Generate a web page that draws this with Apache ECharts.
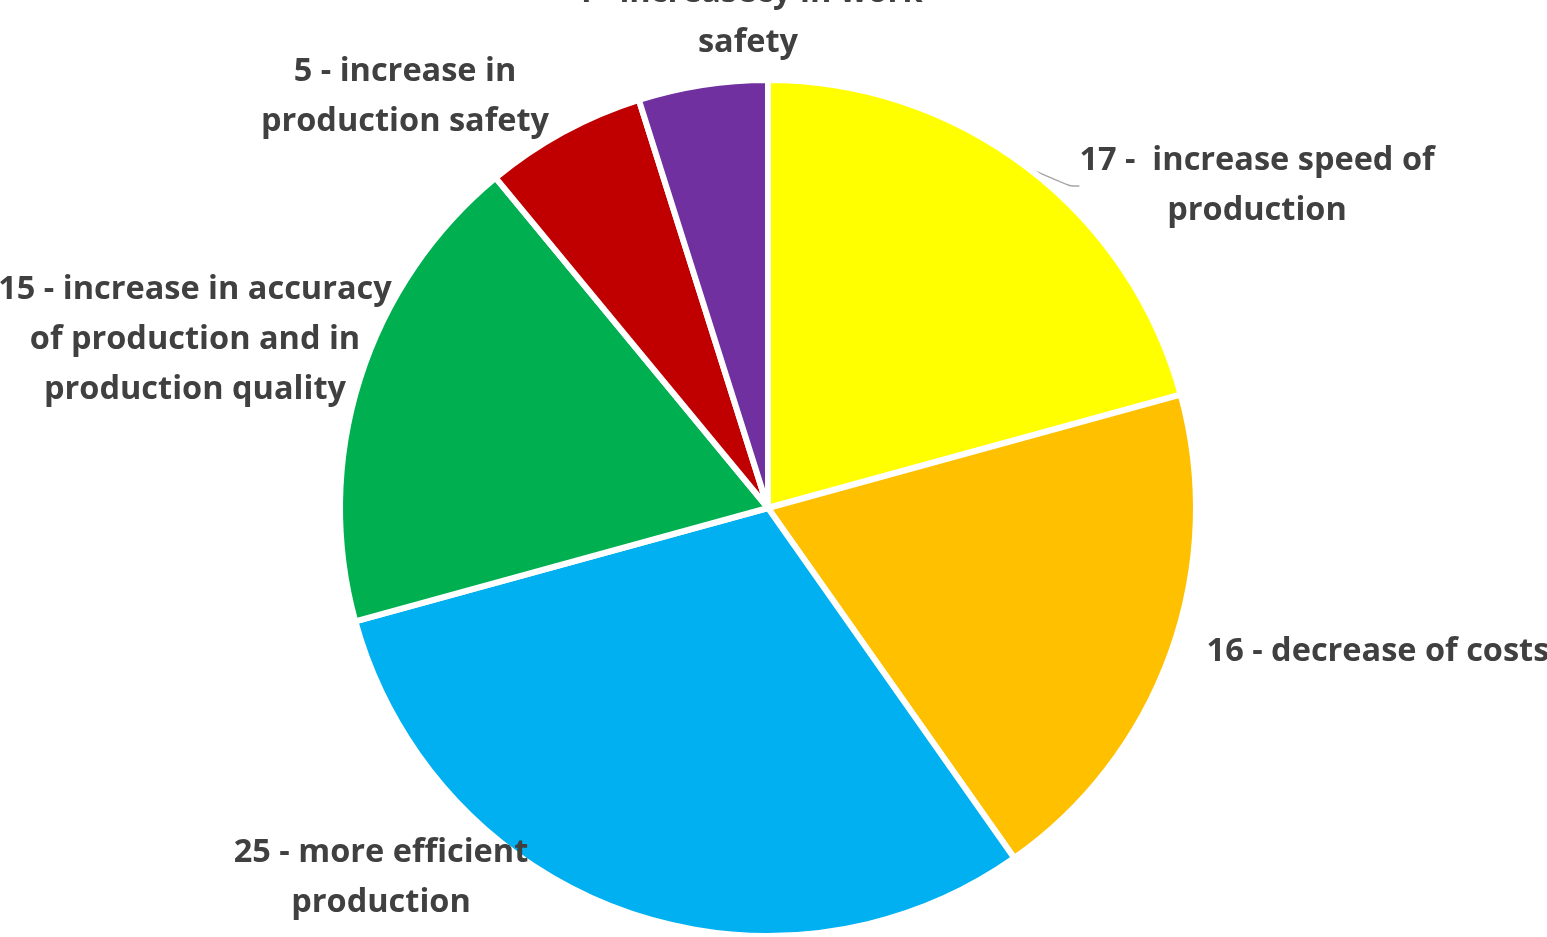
<!DOCTYPE html>
<html>
<head>
<meta charset="utf-8">
<script src="https://cdn.jsdelivr.net/npm/echarts@6/dist/echarts.min.js"></script>
<style>
html,body{margin:0;padding:0;background:#fff;overflow:hidden;}
#chart{width:1547px;height:937px;}
</style>
</head>
<body>
<div id="chart"></div>
<script>
const categories = [
  "17 -  increase speed of\nproduction",
  "16 - decrease of costs",
  "25 - more efficient\nproduction",
  "15 - increase in accuracy\nof production and in\nproduction quality",
  "5 - increase in\nproduction safety",
  "4 - increasecy in work\nsafety"
];
const values = [17, 16, 25, 15, 5, 4];
const colors = ["#FFFF00", "#FFC000", "#00B0F0", "#00B050", "#C00000", "#7030A0"];
// label anchor positions (layout only)
const labelPos = [[1257, 186], [1378, 652], [381, 878], [195, 340], [405, 97], [748, 18]];

const chart = echarts.init(document.getElementById('chart'), null, {renderer: 'canvas'});
chart.setOption({
  backgroundColor: '#ffffff',
  animation: false,
  series: [{
    type: 'pie',
    center: [768, 508],
    radius: [0, 428],
    startAngle: 90,
    clockwise: true,
    data: categories.map((c, i) => ({
      name: c,
      value: values[i],
      itemStyle: {color: colors[i]},
      labelLine: {show: i === 0}
    })),
    itemStyle: {borderColor: '#ffffff', borderWidth: 6},
    label: {
      show: true,
      position: 'outside',
      formatter: '{b}',
      color: '#404040',
      fontFamily: '"Open Sans", Lato, sans-serif',
      fontWeight: 'bold',
      fontSize: 32.5,
      lineHeight: 50,
      align: 'center',
      overflow: 'none'
    },
    labelLine: {
      show: true,
      length: 6,
      length2: 10,
      smooth: true,
      lineStyle: {color: '#A6A6A6', width: 1.5}
    },
    labelLayout: function (params) {
      const p = labelPos[params.dataIndex];
      return {x: p[0], y: p[1], align: 'center', verticalAlign: 'middle'};
    }
  }]
});
</script>
</body>
</html>
